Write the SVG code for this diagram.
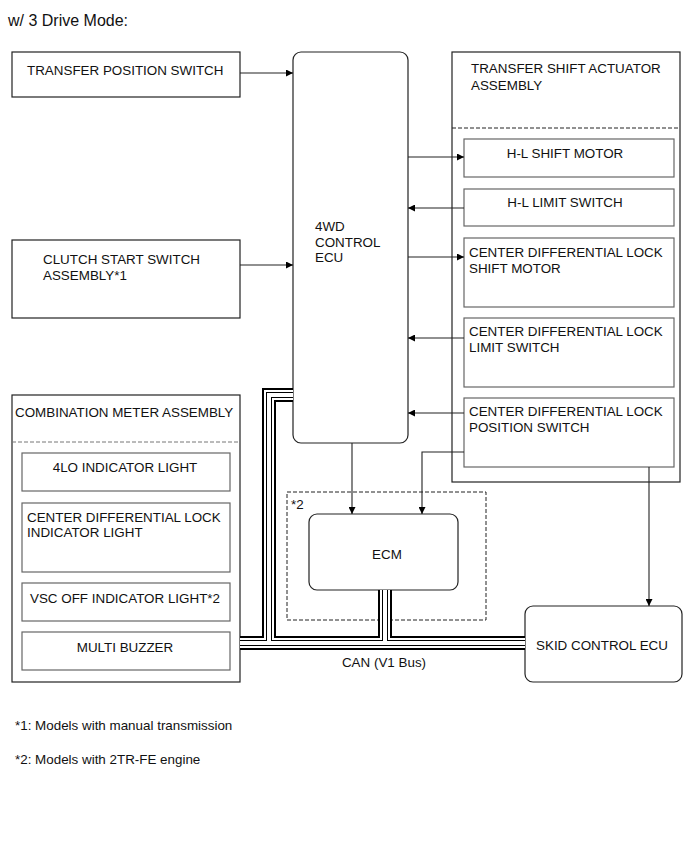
<svg xmlns="http://www.w3.org/2000/svg" width="690" height="854" viewBox="0 0 690 854">
<style>
text{font-family:"Liberation Sans",Arial,sans-serif;font-size:13.4px;fill:#111}
.title{font-size:16px}
.ob{fill:#fff;stroke:#222;stroke-width:1.2}
.ib{fill:#fff;stroke:#666;stroke-width:1.2}
.dash{fill:none;stroke:#222;stroke-width:1;stroke-dasharray:4 2}
.gdash{fill:none;stroke:#777;stroke-width:1;stroke-dasharray:4 2}
.ln{fill:none;stroke:#222;stroke-width:1.1}
.b1{fill:none;stroke:#000;stroke-width:14;stroke-linejoin:miter}
.b2{fill:none;stroke:#fff;stroke-width:10;stroke-linejoin:miter}
.b3{fill:none;stroke:#000;stroke-width:6;stroke-linejoin:miter}
.b4{fill:none;stroke:#fff;stroke-width:4;stroke-linejoin:miter}
.c{text-anchor:middle}
</style>
<defs>
<marker id="ah" viewBox="0 0 10 10" refX="10" refY="5" markerWidth="9" markerHeight="7" markerUnits="userSpaceOnUse" orient="auto">
<path d="M0,0 L10,5 L0,10 z" fill="#000"/>
</marker>
<path id="bus" d="M293,395 H269 V643 M240,643 H525 M385,590 V643"/>
</defs>

<text class="title" x="8" y="26">w/ 3 Drive Mode:</text>

<g id="transfer-position-switch">
<rect class="ob" x="12" y="52" width="228" height="45"/>
<text x="27" y="75">TRANSFER POSITION SWITCH</text>
</g>

<g id="clutch-start-switch">
<rect class="ob" x="12" y="240" width="228" height="78"/>
<text x="43" y="264">CLUTCH START SWITCH</text>
<text x="43" y="280">ASSEMBLY*1</text>
</g>

<g id="ecu-4wd">
<rect class="ob" x="293" y="52" width="115" height="391" rx="8"/>
<text x="315" y="231">4WD</text>
<text x="315" y="247">CONTROL</text>
<text x="315" y="262">ECU</text>
</g>

<g id="transfer-shift-actuator">
<rect class="ob" x="452" y="52" width="228" height="430"/>
<text x="471" y="73">TRANSFER SHIFT ACTUATOR</text>
<text x="471" y="90">ASSEMBLY</text>
<line class="dash" x1="452" y1="128" x2="680" y2="128"/>
</g>

<g id="hl-shift-motor">
<rect class="ib" x="464" y="139" width="210" height="38"/>
<text class="c" x="565" y="158">H-L SHIFT MOTOR</text>
</g>

<g id="hl-limit-switch">
<rect class="ib" x="464" y="189" width="210" height="37"/>
<text class="c" x="565" y="207">H-L LIMIT SWITCH</text>
</g>

<g id="cdl-shift-motor">
<rect class="ib" x="464" y="238" width="210" height="69"/>
<text x="469" y="257">CENTER DIFFERENTIAL LOCK</text>
<text x="469" y="273">SHIFT MOTOR</text>
</g>

<g id="cdl-limit-switch">
<rect class="ib" x="464" y="318" width="210" height="69"/>
<text x="469" y="336">CENTER DIFFERENTIAL LOCK</text>
<text x="469" y="352">LIMIT SWITCH</text>
</g>

<g id="cdl-position-switch">
<rect class="ib" x="464" y="398" width="210" height="69"/>
<text x="469" y="416">CENTER DIFFERENTIAL LOCK</text>
<text x="469" y="432">POSITION SWITCH</text>
</g>

<g id="combination-meter">
<rect class="ob" x="12" y="395" width="228" height="287"/>
<text x="15" y="417">COMBINATION METER ASSEMBLY</text>
<line class="gdash" x1="12" y1="442" x2="240" y2="442"/>
</g>

<g id="4lo-indicator">
<rect class="ib" x="22" y="453" width="208" height="38"/>
<text class="c" x="125" y="472">4LO INDICATOR LIGHT</text>
</g>

<g id="cdl-indicator">
<rect class="ib" x="22" y="503" width="208" height="69"/>
<text x="27" y="522">CENTER DIFFERENTIAL LOCK</text>
<text x="27" y="537">INDICATOR LIGHT</text>
</g>

<g id="vsc-off-indicator">
<rect class="ib" x="22" y="583" width="208" height="38"/>
<text class="c" x="125" y="603">VSC OFF INDICATOR LIGHT*2</text>
</g>

<g id="multi-buzzer">
<rect class="ib" x="22" y="632" width="208" height="38"/>
<text class="c" x="125" y="652">MULTI BUZZER</text>
</g>

<g id="ecm-group">
<rect class="dash" x="287" y="492" width="199" height="128"/>
<text x="291" y="509">*2</text>
</g>

<g id="ecm">
<rect class="ob" x="309" y="514" width="149" height="76" rx="8"/>
<text class="c" x="387" y="559">ECM</text>
</g>

<g id="skid-control-ecu">
<rect class="ob" x="525" y="606" width="157" height="76" rx="8"/>
<text class="c" x="602" y="650">SKID CONTROL ECU</text>
</g>

<g id="connectors">
<line class="ln" x1="240" y1="73" x2="293" y2="73" marker-end="url(#ah)"/>
<line class="ln" x1="240" y1="265" x2="293" y2="265" marker-end="url(#ah)"/>
<line class="ln" x1="408" y1="157" x2="464" y2="157" marker-end="url(#ah)"/>
<line class="ln" x1="464" y1="208" x2="408" y2="208" marker-end="url(#ah)"/>
<line class="ln" x1="408" y1="257" x2="464" y2="257" marker-end="url(#ah)"/>
<line class="ln" x1="464" y1="338" x2="408" y2="338" marker-end="url(#ah)"/>
<line class="ln" x1="464" y1="413" x2="408" y2="413" marker-end="url(#ah)"/>
<line class="ln" x1="352" y1="443" x2="352" y2="514" marker-end="url(#ah)"/>
<path class="ln" d="M464,452 H422 V514" marker-end="url(#ah)"/>
<line class="ln" x1="649" y1="467" x2="649" y2="606" marker-end="url(#ah)"/>
<g id="can-bus">
<use href="#bus" class="b1"/>
<use href="#bus" class="b2"/>
<use href="#bus" class="b3"/>
<use href="#bus" class="b4"/>
</g>
<text class="c" x="384" y="667">CAN (V1 Bus)</text>
</g>

<text x="15" y="730">*1: Models with manual transmission</text>
<text x="15" y="764">*2: Models with 2TR-FE engine</text>
</svg>
